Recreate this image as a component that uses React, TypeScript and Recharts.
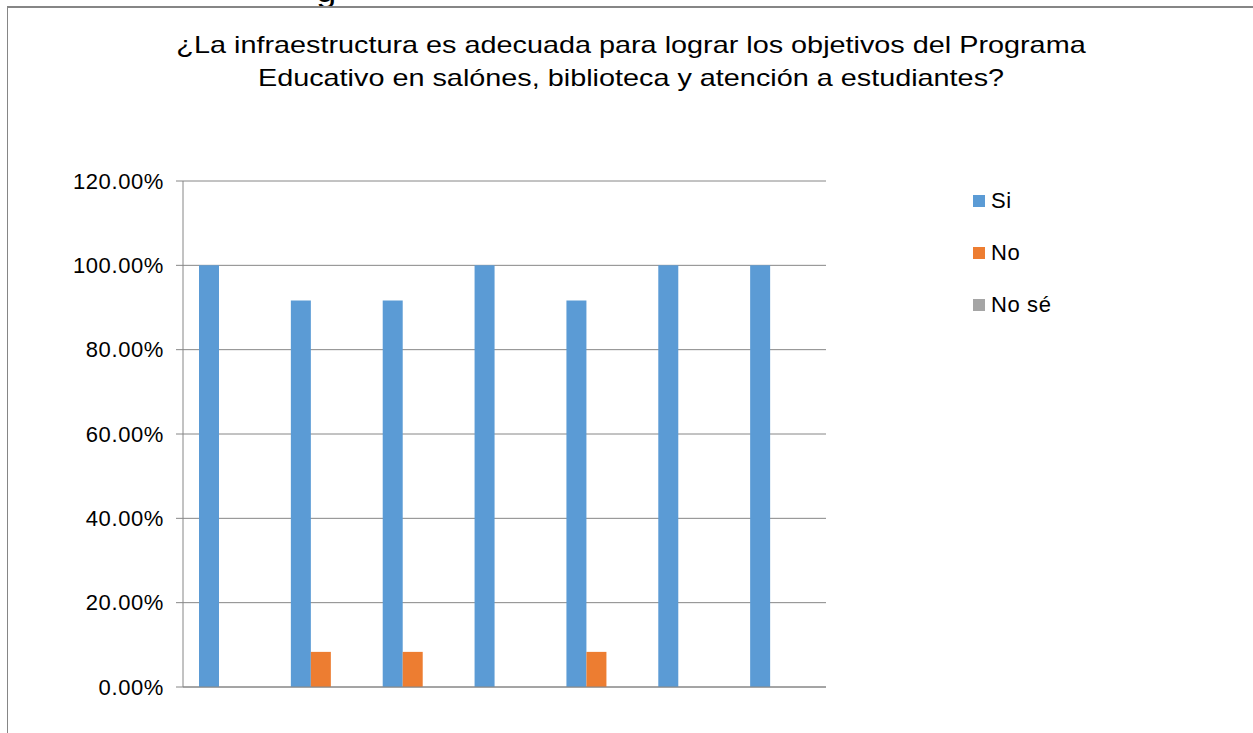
import { BarChart, Bar, XAxis, YAxis, CartesianGrid } from 'recharts'

const categories = ['1', '2', '3', '4', '5', '6', '7']
const si = [1, 0.9167, 0.9167, 1, 0.9167, 1, 1]
const no = [0, 0.0833, 0.0833, 0, 0.0833, 0, 0]
const noSe = [0, 0, 0, 0, 0, 0, 0]
const yTicks = [0, 0.2, 0.4, 0.6, 0.8, 1, 1.2]

const SERIES = [
  { key: 'si', name: 'Si', color: '#5b9bd5' },
  { key: 'no', name: 'No', color: '#ed7d31' },
  { key: 'noSe', name: 'No sé', color: '#a5a5a5' },
]

const FONT = '"Liberation Sans", Arial, sans-serif'
const GRID = '#868686'

const data = categories.map((c, i) => ({ cat: c, si: si[i], no: no[i], noSe: noSe[i] }))

function LegendBox() {
  return (
    <div
      style={{
        position: 'absolute',
        left: 973,
        top: 175,
        width: 150,
        fontFamily: FONT,
        fontSize: 22,
        letterSpacing: 0.6,
        color: '#000',
      }}
    >
      {SERIES.map((s) => (
        <div key={s.key} style={{ display: 'flex', alignItems: 'center', height: 52 }}>
          <span style={{ width: 12, height: 12, background: s.color, marginRight: 6 }} />
          <span>{s.name}</span>
        </div>
      ))}
    </div>
  )
}

export default function App() {
  return (
    <div style={{ position: 'absolute', left: 0, top: 0, width: 1253, height: 733, background: '#fff', overflow: 'hidden' }}>
      {/* tail of a letter cut off above the chart frame */}
      <div style={{ position: 'absolute', left: 318, top: 0, height: 6, overflow: 'hidden' }}>
        <div style={{ fontFamily: FONT, fontSize: 30, lineHeight: '30px', marginTop: -23, transform: 'scaleX(1.2)' }}>g</div>
      </div>
      <div
        style={{
          position: 'absolute',
          left: 7,
          top: 6,
          right: -5,
          bottom: -5,
          borderTop: `2px solid ${GRID}`,
          borderLeft: `1px solid ${GRID}`,
        }}
      />
      <div
        style={{
          position: 'absolute',
          left: 0,
          width: 1262,
          top: 28,
          textAlign: 'center',
          fontFamily: FONT,
          fontSize: 24,
          lineHeight: '33px',
          color: '#000',
          transform: 'scaleX(1.2)',
        }}
      >
        ¿La infraestructura es adecuada para lograr los objetivos del Programa
        <br />
        Educativo en salónes, biblioteca y atención a estudiantes?
      </div>
      <BarChart
        width={1253}
        height={733}
        data={data}
        margin={{ top: 181, right: 427, bottom: 45, left: 8 }}
        barSize={20}
        barGap={0}
        style={{ position: 'absolute', left: 0, top: 0 }}
      >
        <CartesianGrid vertical={false} stroke={GRID} strokeWidth={1} />
        <XAxis dataKey="cat" tick={false} tickLine={false} height={1} axisLine={{ stroke: GRID }} />
        <YAxis
          width={175}
          domain={[0, 1.2]}
          ticks={yTicks}
          interval={0}
          tickSize={7}
          tickMargin={12}
          axisLine={{ stroke: GRID }}
          tickLine={{ stroke: GRID }}
          tickFormatter={(v: number) => `${(v * 100).toFixed(2)}%`}
          tick={{ fill: '#000', fontSize: 22, fontFamily: FONT, letterSpacing: 0.6 }}
        />
        {SERIES.map((s) => (
          <Bar key={s.key} dataKey={s.key} name={s.name} fill={s.color} isAnimationActive={false} />
        ))}
      </BarChart>
      <LegendBox />
    </div>
  )
}
